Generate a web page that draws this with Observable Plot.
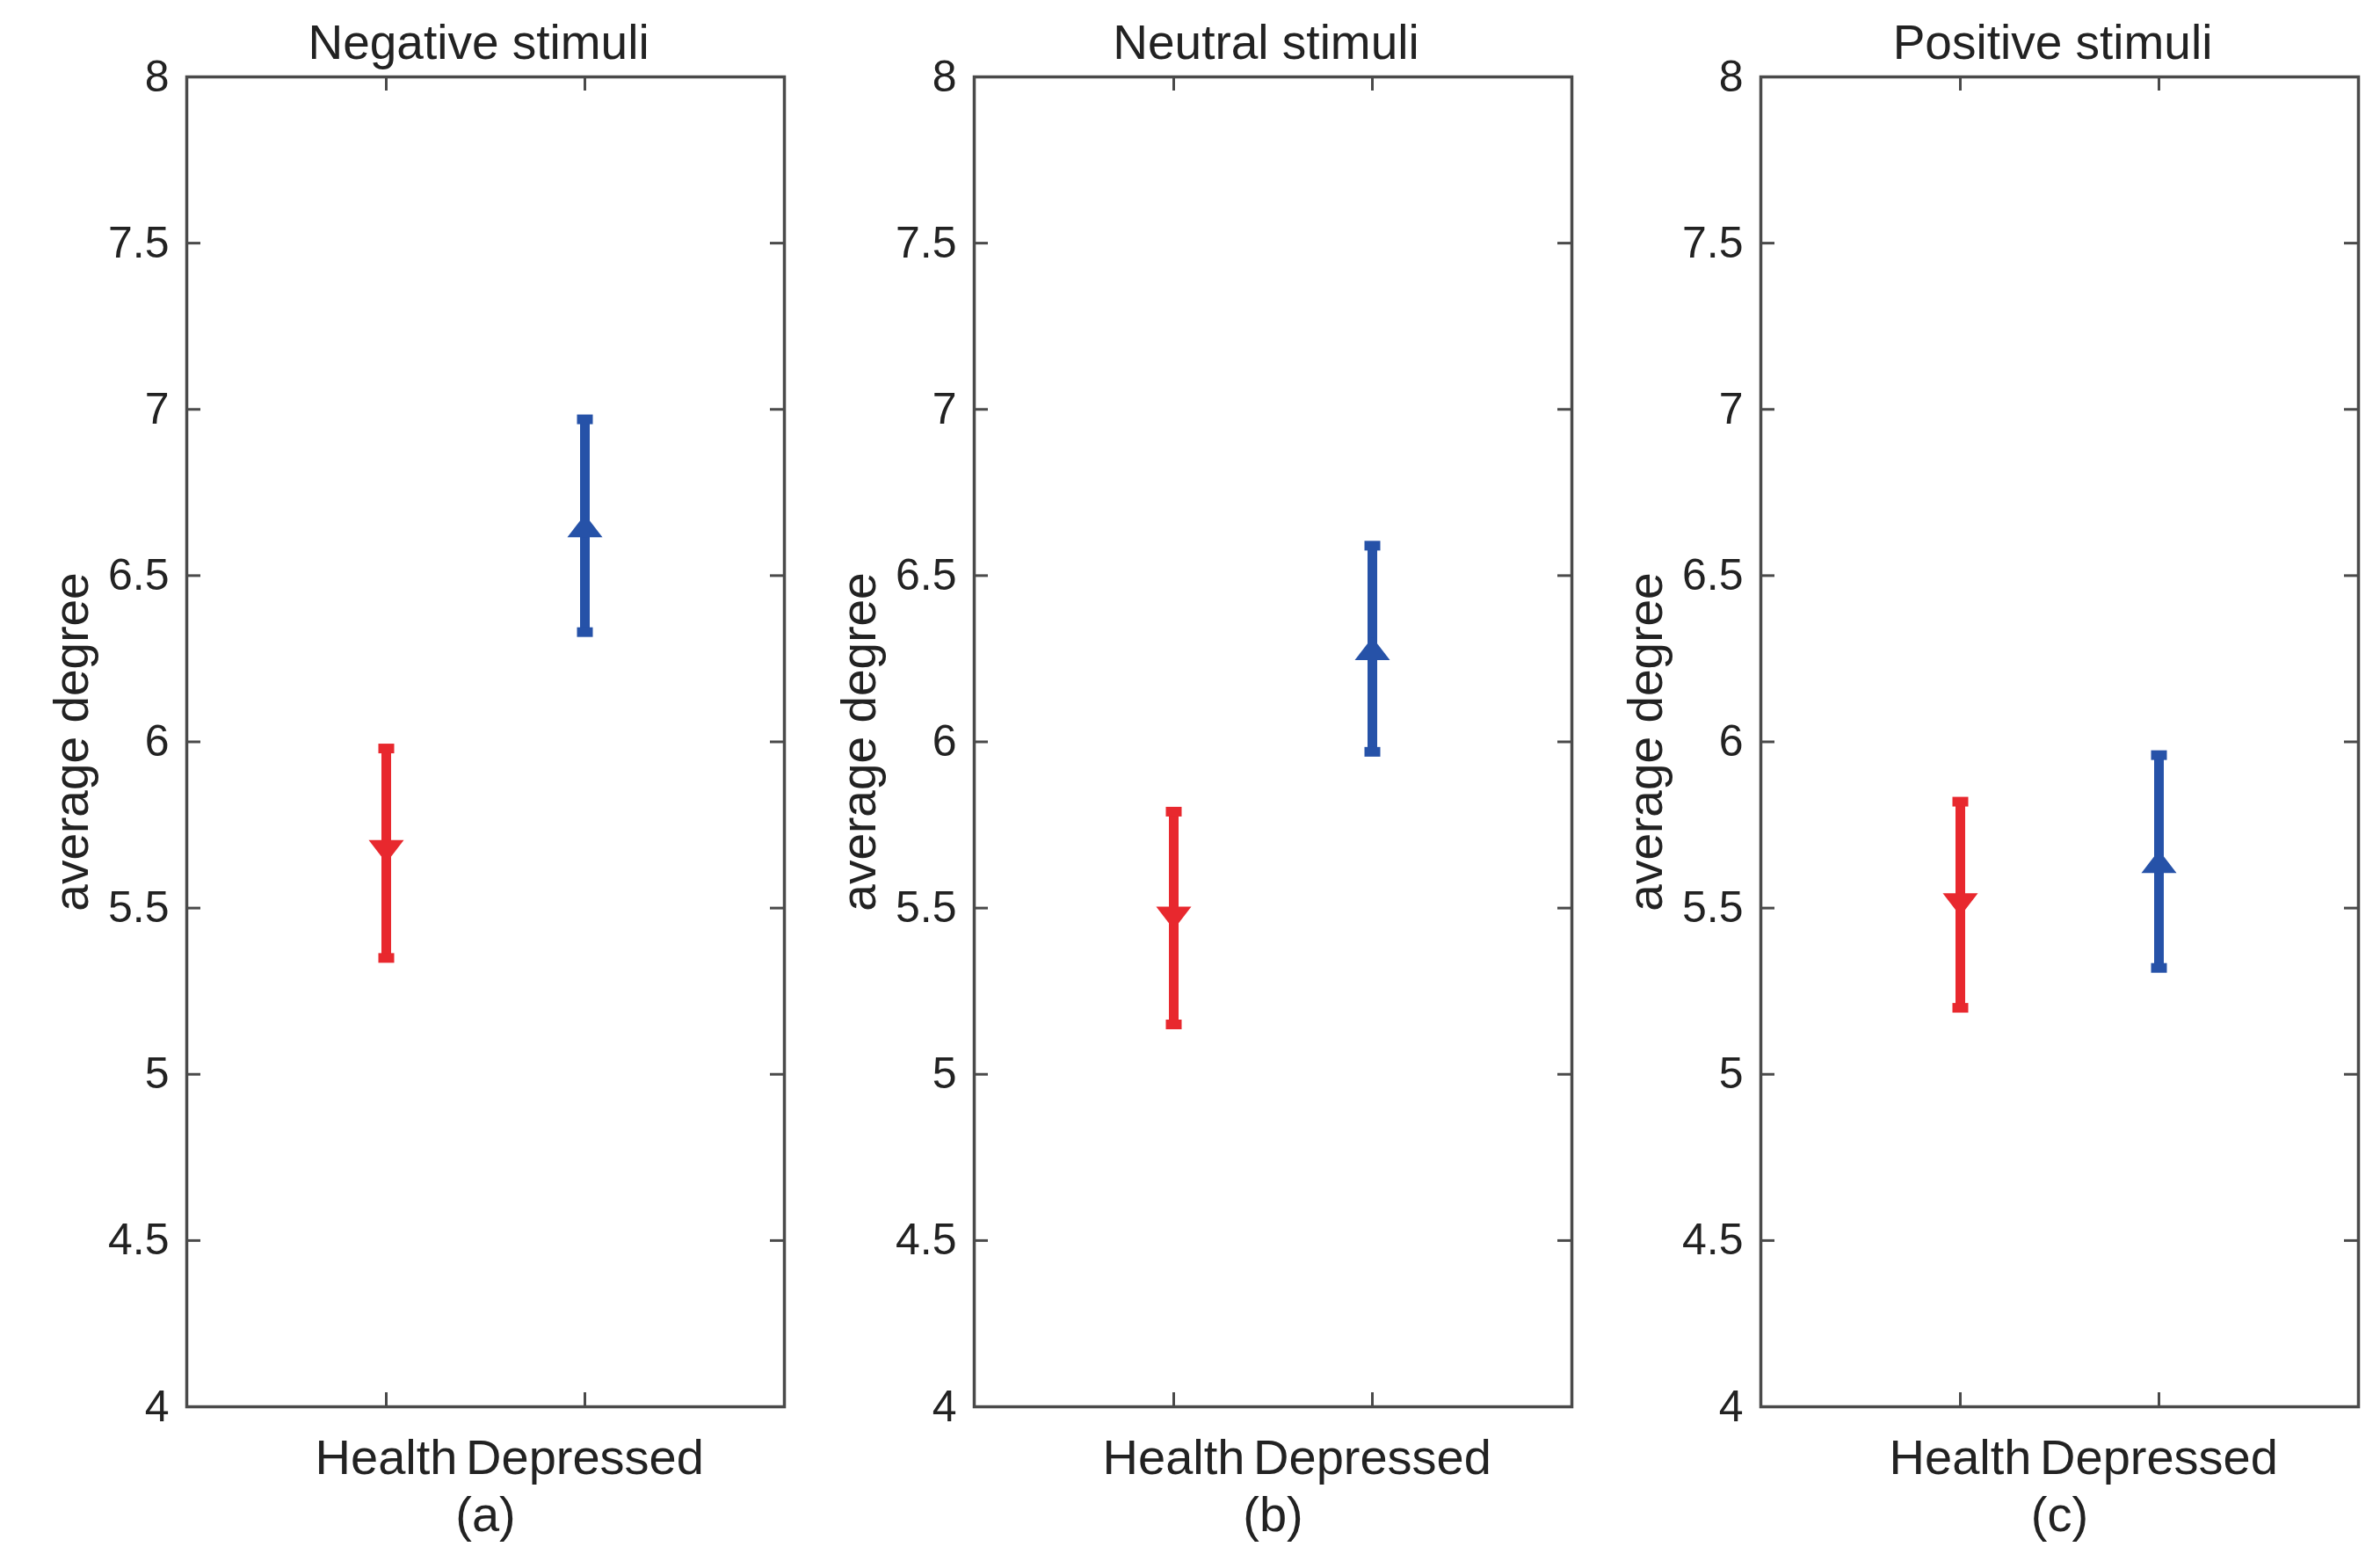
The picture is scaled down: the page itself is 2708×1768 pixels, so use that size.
<!DOCTYPE html>
<html>
<head>
<meta charset="utf-8">
<script src="https://cdn.jsdelivr.net/npm/d3@7"></script>
<script src="https://cdn.jsdelivr.net/npm/@observablehq/plot@0.6"></script>
<style>
  body { margin: 0; background: #fff; }
  #fig { position: relative; width: 2708px; height: 1768px; background: #fff; }
  #fig svg { position: absolute; top: 0; }
</style>
</head>
<body>
<div id="fig"></div>
<script>
// ---- data ----
const panelTitles = ["Negative stimuli", "Neutral stimuli", "Positive stimuli"];
const captions = ["(a)", "(b)", "(c)"];
const groups = ["Health", "Depressed"];
const healthMean = [5.67, 5.47, 5.51];
const healthLow  = [5.35, 5.15, 5.20];
const healthHigh = [5.98, 5.79, 5.82];
const depMean    = [6.65, 6.28, 5.64];
const depLow     = [6.33, 5.97, 5.32];
const depHigh    = [6.97, 6.59, 5.96];
const yTicks = [4, 4.5, 5, 5.5, 6, 6.5, 7, 7.5, 8];
const yDomain = [4, 8];
const yLabel = "average degree";
const groupColors = ["#e8282e", "#2652a8"];

// ---- layout / style ----
const panelLeft = [0, 896, 1791];
const W = 896, H = 1768;
const mL = 212, mR = 4, mT = 87, mB = 168;
const fw = W - mL - mR, fh = H - mT - mB;
const tickLen = 16;
const axisColor = "#4a4a4a";
const textColor = "#222";
const font = "'Liberation Sans', Arial, Helvetica, sans-serif";

const capSymbol = { draw(ctx) { ctx.rect(-9, -5.5, 18, 11); } };
const triUp = { draw(ctx) { ctx.moveTo(0, -13); ctx.lineTo(20, 13); ctx.lineTo(-20, 13); ctx.closePath(); } };
const triDown = { draw(ctx) { ctx.moveTo(0, 13); ctx.lineTo(20, -13); ctx.lineTo(-20, -13); ctx.closePath(); } };

const fig = document.getElementById("fig");

panelTitles.forEach((title, i) => {
  const rows = [
    { group: groups[0], mean: healthMean[i], lo: healthLow[i], hi: healthHigh[i], color: groupColors[0] },
    { group: groups[1], mean: depMean[i], lo: depLow[i], hi: depHigh[i], color: groupColors[1] }
  ];
  const svg = Plot.plot({
    width: W,
    height: H,
    marginLeft: mL,
    marginRight: mR,
    marginTop: mT,
    marginBottom: mB,
    style: { fontFamily: font, background: "white", color: textColor, overflow: "visible" },
    x: { type: "point", domain: groups, padding: 1 },
    y: { domain: yDomain },
    color: { type: "identity" },
    marks: [
      // inward ticks on all four sides
      Plot.tickY(yTicks, { y: d => d, insetRight: fw - tickLen, stroke: axisColor, strokeWidth: 3 }),
      Plot.tickY(yTicks, { y: d => d, insetLeft: fw - tickLen, stroke: axisColor, strokeWidth: 3 }),
      Plot.tickX(groups, { x: d => d, insetTop: fh - tickLen, stroke: axisColor, strokeWidth: 3 }),
      Plot.tickX(groups, { x: d => d, insetBottom: fh - tickLen, stroke: axisColor, strokeWidth: 3 }),
      Plot.frame({ stroke: axisColor, strokeWidth: 3.5 }),
      Plot.axisY({ ticks: yTicks, tickSize: 0, tickPadding: 20, fontSize: 50, label: null,
                   tickFormat: d => String(d), fill: textColor }),
      Plot.axisX({ tickSize: 0, tickPadding: 37, fontSize: 56, label: null, fill: textColor }),
      Plot.text([yLabel], { frameAnchor: "left", textAnchor: "middle", dx: -130, rotate: -90, fontSize: 55, fill: textColor }),
      Plot.text([title], { frameAnchor: "top", lineAnchor: "bottom", dy: -21, dx: -8, fontSize: 55, fill: textColor }),
      Plot.text([captions[i]], { frameAnchor: "bottom", lineAnchor: "bottom", dy: 141, fontSize: 56, fill: textColor }),
      // error bars
      Plot.ruleX(rows, { x: "group", y1: "lo", y2: "hi", stroke: "color", strokeWidth: 11 }),
      Plot.dot(rows, { x: "group", y: "lo", symbol: capSymbol, fill: "color", stroke: null }),
      Plot.dot(rows, { x: "group", y: "hi", symbol: capSymbol, fill: "color", stroke: null }),
      Plot.dot(rows, { filter: d => d.group === groups[0], x: "group", y: "mean", symbol: triDown, fill: "color", stroke: null }),
      Plot.dot(rows, { filter: d => d.group === groups[1], x: "group", y: "mean", symbol: triUp, fill: "color", stroke: null })
    ]
  });
  svg.style.left = panelLeft[i] + "px";
  fig.appendChild(svg);
});
</script>
</body>
</html>
